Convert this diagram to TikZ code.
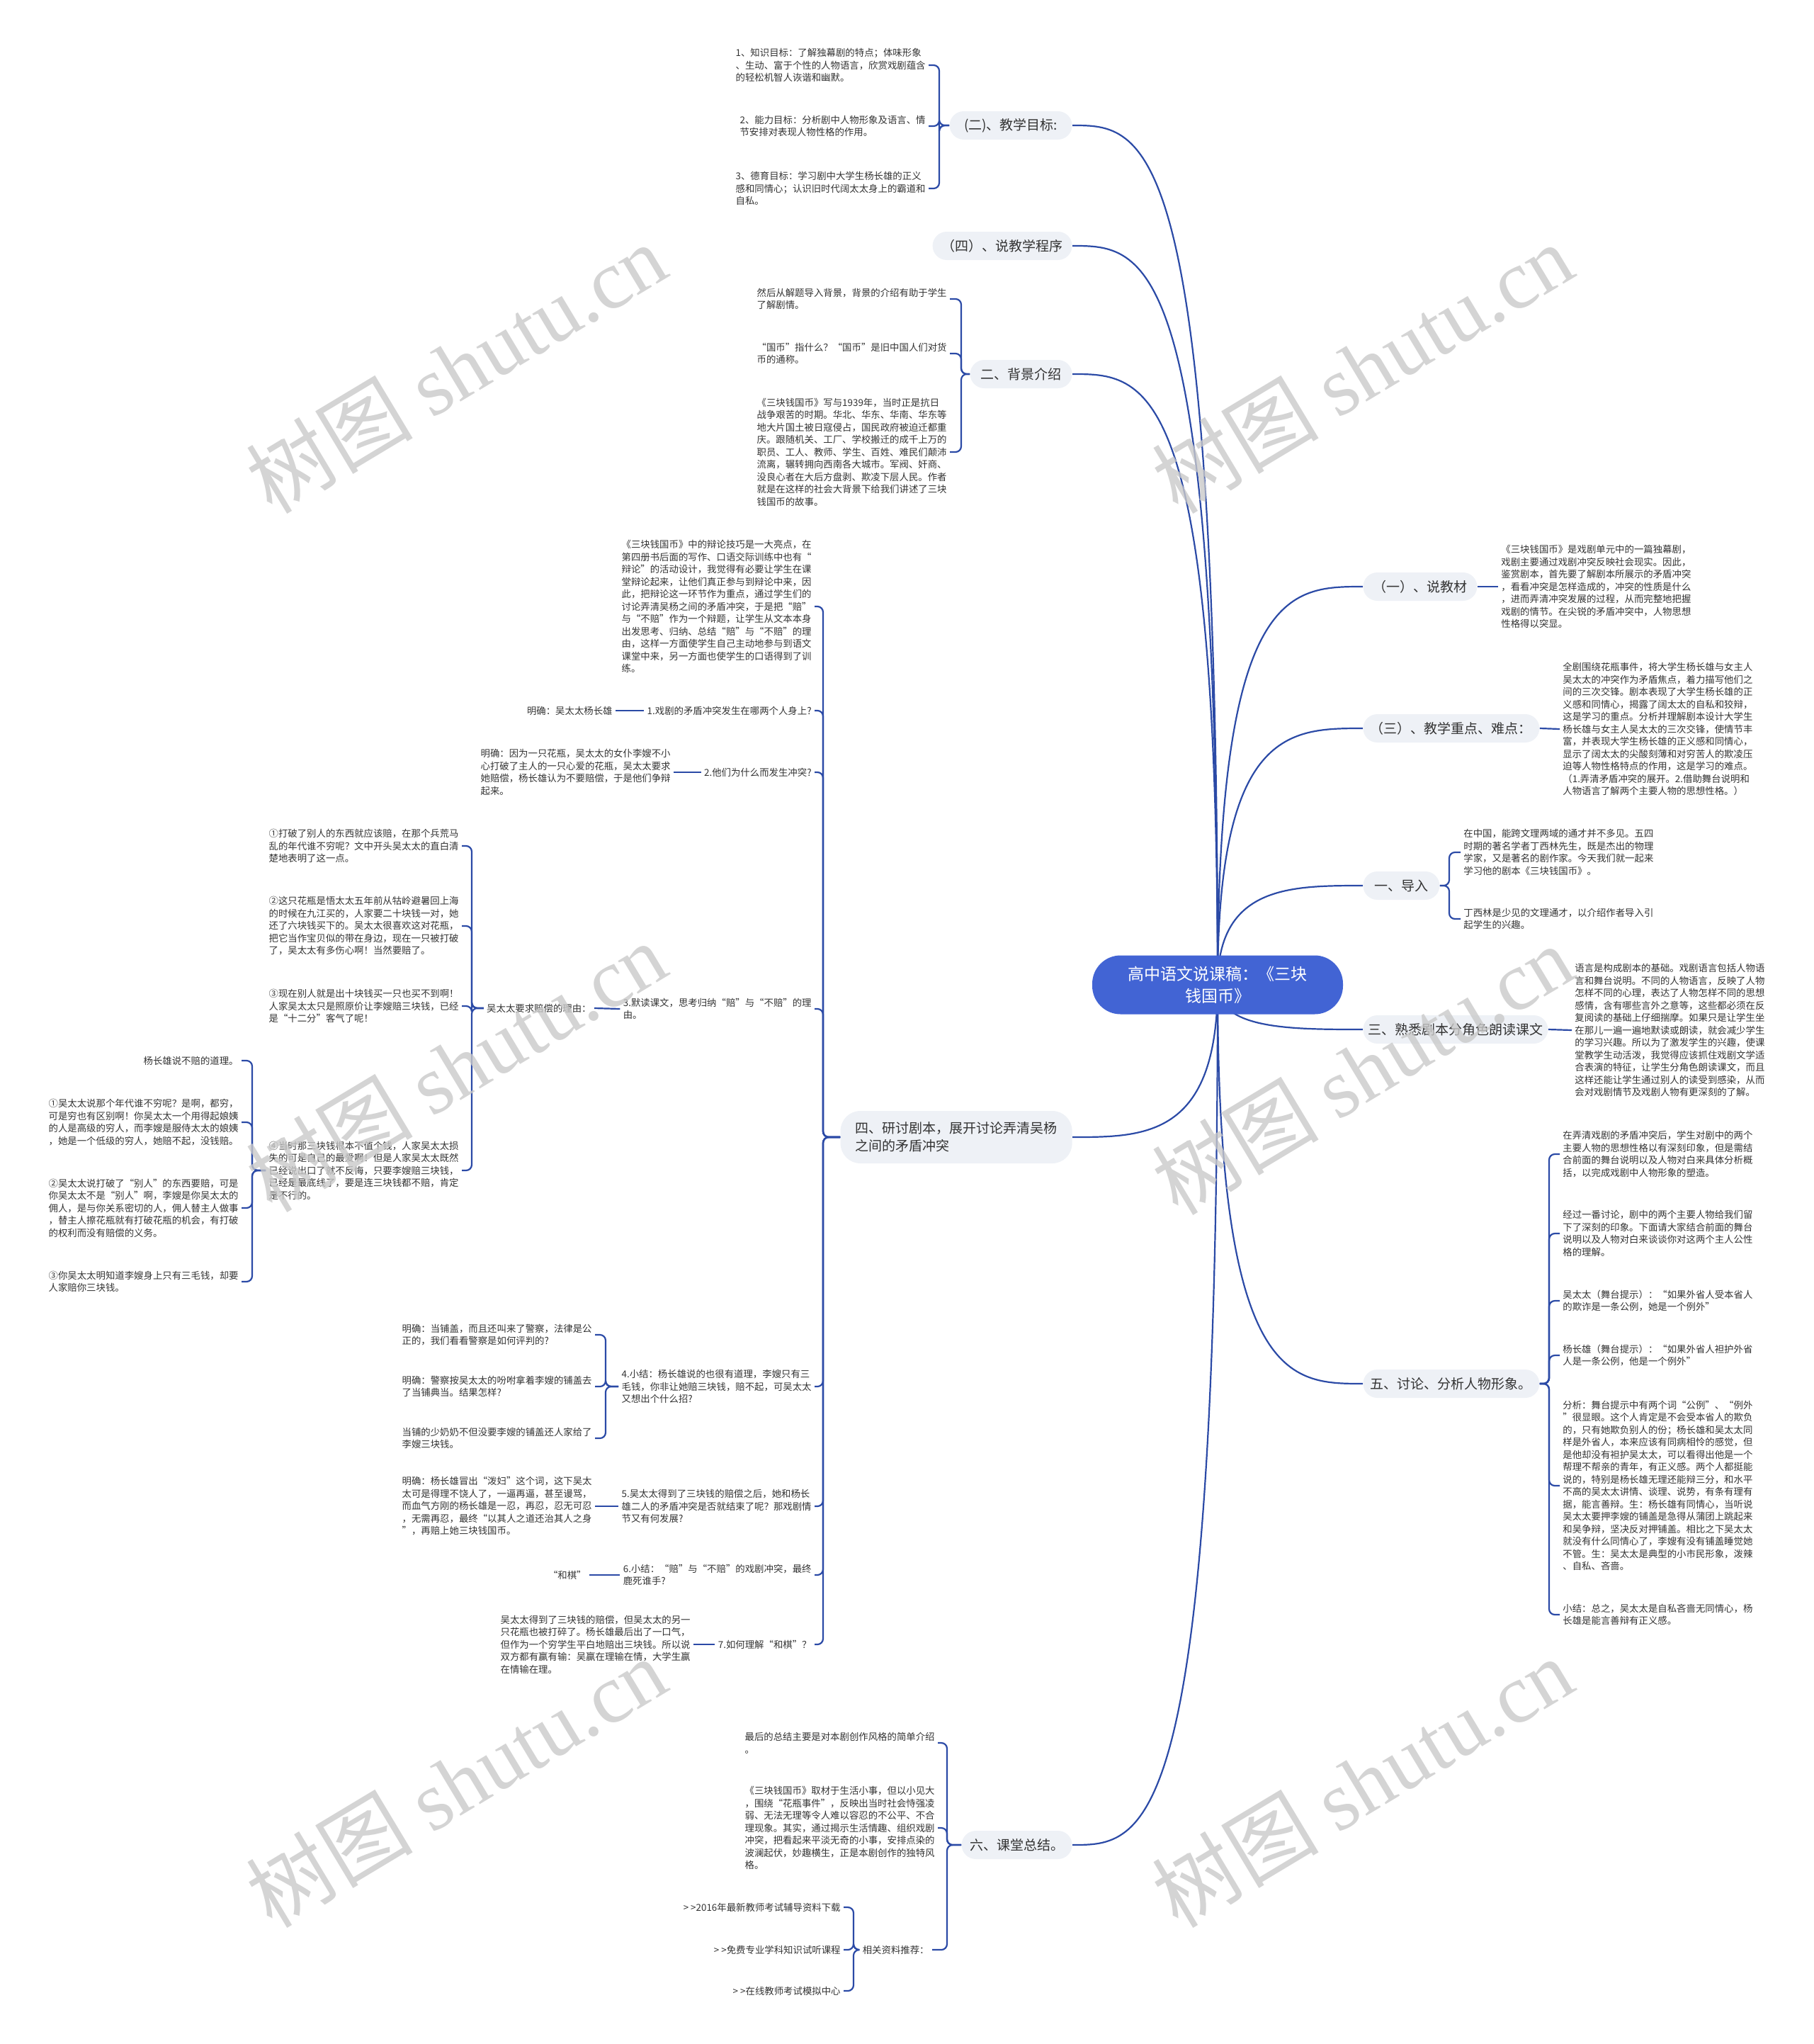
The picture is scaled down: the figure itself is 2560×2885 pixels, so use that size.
\documentclass[tikz,border=0pt]{standalone}
\usepackage{fontspec}
\setmainfont{Noto Sans CJK SC}
\newfontfamily\wmserif{Liberation Serif}
\usetikzlibrary{calc,backgrounds}

\definecolor{linkblue}{HTML}{2B4AA6}
\definecolor{rootblue}{HTML}{4264D4}
\definecolor{pillgray}{HTML}{EEF1F6}
\definecolor{txtgray}{HTML}{333333}
\newcommand{\leaffont}{\fontsize{6.7}{8.75}\selectfont}
\newcommand{\pillfont}{\fontsize{9.5}{12.5}\selectfont}

\begin{document}
\begin{tikzpicture}[x=0.5pt, y=-0.5pt,
  link/.style={draw=linkblue, line width=1.1pt, rounded corners=4pt},
  rootbox/.style={fill=rootblue, text=white, rounded corners=20pt, minimum width=177pt,
    minimum height=41.5pt, align=center, font=\fontsize{11.5}{15.5}\selectfont},
  pill/.style={fill=pillgray, text=txtgray, rounded corners=10pt, minimum height=20pt,
    inner xsep=0pt, font=\pillfont},
  leafR/.style={anchor=west, align=left, font=\leaffont, text=txtgray, inner xsep=2pt, inner ysep=1pt},
  leafL/.style={leafR, anchor=east},
  wm/.style={text=black!21, opacity=0.8, font=\fontsize{59}{66}\selectfont, rotate=31}]
  \useasboundingbox (0,0) rectangle (2560,2885);

  % Root
  \node[rootbox] (root) at (1719,1390) {高中语文说课稿：《三块\\钱国币》};

  % Right branches
  \node[pill, anchor=west, minimum width=80.5pt] (r1) at (1924,828) {（一）、说教材};
  \node[pill, anchor=west, minimum width=124.5pt] (r3) at (1924,1028) {（三）、教学重点、难点：};
  \node[pill, anchor=west, minimum width=54pt] (dr) at (1924,1250) {一、导入};
  \node[pill, anchor=west, minimum width=130.5pt] (sx) at (1924,1453) {三、熟悉剧本分角色朗读课文};
  \node[pill, anchor=west, minimum width=124.5pt] (tl) at (1924,1953) {五、讨论、分析人物形象。};

  % Left branches
  \node[pill, anchor=east, minimum width=86.5pt] (t2) at (1514,177) {(二)、教学目标:};
  \node[pill, anchor=east, minimum width=98.5pt] (t4) at (1514,347) {（四）、说教学程序};
  \node[pill, anchor=east, minimum width=72pt] (bg) at (1514,528) {二、背景介绍};
  \node[pill, anchor=east, minimum width=163.5pt, minimum height=37pt, rounded corners=14pt,
    align=left] (yt) at (1514,1605) {四、研讨剧本，展开讨论弄清吴杨\\之间的矛盾冲突};
  \node[pill, anchor=east, minimum width=78pt] (zj) at (1514,2604) {六、课堂总结。};

  % Root links
  \begin{scope}[on background layer]
    \foreach \c in {r1,r3,dr,sx,tl}
      \draw[link] (root.center) .. controls (root.center |- \c.west)
        and ($(root.center |- \c.west)!0.5!(\c.west)$) .. (\c.west);
    \foreach \c in {t2,t4,bg,yt,zj}
      \draw[link] (root.center) .. controls (root.center |- \c.east)
        and ($(root.center |- \c.east)!0.5!(\c.east)$) .. (\c.east);
  \end{scope}

  % (二) teaching goals
  \node[leafL] (g1) at (1311,92) {1、知识目标：了解独幕剧的特点；体味形象\\、生动、富于个性的人物语言，欣赏戏剧蕴含\\的轻松机智人诙谐和幽默。};
  \node[leafL] (g2) at (1311,178) {2、能力目标：分析剧中人物形象及语言、情\\节安排对表现人物性格的作用。};
  \node[leafL] (g3) at (1311,266) {3、德育目标：学习剧中大学生杨长雄的正义\\感和同情心；认识旧时代阔太太身上的霸道和\\自私。};
  \foreach \c in {g1,g2,g3}
    \draw[link] (t2.west) -- (1326,177) |- (\c.east);

  % 二 background
  \node[leafL] (bg1) at (1341,422) {然后从解题导入背景，背景的介绍有助于学生\\了解剧情。};
  \node[leafL] (bg2) at (1341,499) {“国币”指什么？“国币”是旧中国人们对货\\币的通称。};
  \node[leafL] (bg3) at (1341,638) {《三块钱国币》写与1939年，当时正是抗日\\战争艰苦的时期。华北、华东、华南、华东等\\地大片国土被日寇侵占，国民政府被迫迁都重\\庆。跟随机关、工厂、学校搬迁的成千上万的\\职员、工人、教师、学生、百姓、难民们颠沛\\流离，辗转拥向西南各大城市。军阀、奸商、\\没良心者在大后方盘剥、欺凌下层人民。作者\\就是在这样的社会大背景下给我们讲述了三块\\钱国币的故事。};
  \foreach \c in {bg1,bg2,bg3}
    \draw[link] (bg.west) -- (1357,528) |- (\c.east);

  % (一) textbook
  \node[leafR] (r1a) at (2115,828) {《三块钱国币》是戏剧单元中的一篇独幕剧，\\戏剧主要通过戏剧冲突反映社会现实。因此，\\鉴赏剧本，首先要了解剧本所展示的矛盾冲突\\，看看冲突是怎样造成的，冲突的性质是什么\\，进而弄清冲突发展的过程，从而完整地把握\\戏剧的情节。在尖锐的矛盾冲突中，人物思想\\性格得以突显。};
  \draw[link] (r1.east) -- (r1a.west);

  % (三) key points
  \node[leafR] (r3a) at (2202,1029) {全剧围绕花瓶事件，将大学生杨长雄与女主人\\吴太太的冲突作为矛盾焦点，着力描写他们之\\间的三次交锋。剧本表现了大学生杨长雄的正\\义感和同情心，揭露了阔太太的自私和狡辩，\\这是学习的重点。分析并理解剧本设计大学生\\杨长雄与女主人吴太太的三次交锋，使情节丰\\富，并表现大学生杨长雄的正义感和同情心，\\显示了阔太太的尖酸刻薄和对穷苦人的欺凌压\\迫等人物性格特点的作用，这是学习的难点。\\（1.弄清矛盾冲突的展开。2.借助舞台说明和\\人物语言了解两个主要人物的思想性格。）};
  \draw[link] (r3.east) -- (r3a.west);

  % 一 introduction
  \node[leafR] (dr1) at (2062,1203) {在中国，能跨文理两域的通才并不多见。五四\\时期的著名学者丁西林先生，既是杰出的物理\\学家，又是著名的剧作家。今天我们就一起来\\学习他的剧本《三块钱国币》。};
  \node[leafR] (dr2) at (2062,1297) {丁西林是少见的文理通才，以介绍作者导入引\\起学生的兴趣。};
  \foreach \c in {dr1,dr2}
    \draw[link] (dr.east) -- (2046,1250) |- (\c.west);

  % 三 reading
  \node[leafR] (sxa) at (2219,1454) {语言是构成剧本的基础。戏剧语言包括人物语\\言和舞台说明。不同的人物语言，反映了人物\\怎样不同的心理，表达了人物怎样不同的思想\\感情，含有哪些言外之意等，这些都必须在反\\复阅读的基础上仔细揣摩。如果只是让学生坐\\在那儿一遍一遍地默读或朗读，就会减少学生\\的学习兴趣。所以为了激发学生的兴趣，使课\\堂教学生动活泼，我觉得应该抓住戏剧文学适\\合表演的特征，让学生分角色朗读课文，而且\\这样还能让学生通过别人的读受到感染，从而\\会对戏剧情节及戏剧人物有更深刻的了解。};
  \draw[link] (sx.east) -- (sxa.west);

  % 五 characters
  \node[leafR] (tl1) at (2202,1629) {在弄清戏剧的矛盾冲突后，学生对剧中的两个\\主要人物的思想性格以有深刻印象，但是需结\\合前面的舞台说明以及人物对白来具体分析概\\括，以完成戏剧中人物形象的塑造。};
  \node[leafR] (tl2) at (2202,1741) {经过一番讨论，剧中的两个主要人物给我们留\\下了深刻的印象。下面请大家结合前面的舞台\\说明以及人物对白来谈谈你对这两个主人公性\\格的理解。};
  \node[leafR] (tl3) at (2202,1836) {吴太太（舞台提示）：“如果外省人受本省人\\的欺诈是一条公例，她是一个例外”};
  \node[leafR] (tl4) at (2202,1913) {杨长雄（舞台提示）：“如果外省人袒护外省\\人是一条公例，他是一个例外”};
  \node[leafR] (tl5) at (2202,2097) {分析：舞台提示中有两个词“公例”、“例外\\”很显眼。这个人肯定是不会受本省人的欺负\\的，只有她欺负别人的份；杨长雄和吴太太同\\样是外省人，本来应该有同病相怜的感觉，但\\是他却没有袒护吴太太，可以看得出他是一个\\帮理不帮亲的青年，有正义感。两个人都挺能\\说的，特别是杨长雄无理还能辩三分，和水平\\不高的吴太太讲情、谈理、说势，有条有理有\\据，能言善辩。生：杨长雄有同情心，当听说\\吴太太要押李嫂的铺盖是急得从蒲团上跳起来\\和吴争辩，坚决反对押铺盖。相比之下吴太太\\就没有什么同情心了，李嫂有没有铺盖睡觉她\\不管。生：吴太太是典型的小市民形象，泼辣\\、自私、吝啬。};
  \node[leafR] (tl6) at (2202,2279) {小结：总之，吴太太是自私吝啬无同情心，杨\\长雄是能言善辩有正义感。};
  \foreach \c in {tl1,tl2,tl3,tl4,tl5,tl6}
    \draw[link] (tl.east) -- (2187,1953) |- (\c.west);

  % 四 discussion
  \node[leafL] (y0) at (1150,856) {《三块钱国币》中的辩论技巧是一大亮点，在\\第四册书后面的写作、口语交际训练中也有“\\辩论”的活动设计，我觉得有必要让学生在课\\堂辩论起来，让他们真正参与到辩论中来，因\\此，把辩论这一环节作为重点，通过学生们的\\讨论弄清吴杨之间的矛盾冲突，于是把“赔”\\与“不赔”作为一个辩题，让学生从文本本身\\出发思考、归纳、总结“赔”与“不赔”的理\\由，这样一方面使学生自己主动地参与到语文\\课堂中来，另一方面也使学生的口语得到了训\\练。};
  \node[leafL] (y1) at (1150,1003) {1.戏剧的矛盾冲突发生在哪两个人身上?};
  \node[leafL] (y2) at (1150,1090) {2.他们为什么而发生冲突?};
  \node[leafL] (y3) at (1150,1424) {3.默读课文，思考归纳“赔”与“不赔”的理\\由。};
  \node[leafL] (y4) at (1150,1957) {4.小结：杨长雄说的也很有道理，李嫂只有三\\毛钱，你非让她赔三块钱，赔不起，可吴太太\\又想出个什么招?};
  \node[leafL] (y5) at (1150,2126) {5.吴太太得到了三块钱的赔偿之后，她和杨长\\雄二人的矛盾冲突是否就结束了呢？那戏剧情\\节又有何发展?};
  \node[leafL] (y6) at (1150,2223) {6.小结：“赔”与“不赔”的戏剧冲突，最终\\鹿死谁手?};
  \node[leafL] (y7) at (1150,2321) {7.如何理解“和棋”？};
  \foreach \c in {y0,y1,y2,y3,y4,y5,y6,y7}
    \draw[link] (yt.west) -- (1162,1605) |- (\c.east);

  \node[leafL] (y1a) at (869,1003) {明确：吴太太杨长雄};
  \draw[link] (y1.west) -- (y1a.east);
  \node[leafL] (y2a) at (951,1090) {明确：因为一只花瓶，吴太太的女仆李嫂不小\\心打破了主人的一只心爱的花瓶，吴太太要求\\她赔偿，杨长雄认为不要赔偿，于是他们争辩\\起来。};
  \draw[link] (y2.west) -- (y2a.east);

  % reasons for paying
  \node[leafL] (y3a) at (839,1423) {吴太太要求赔偿的理由：};
  \draw[link] (y3.west) -- (y3a.east);
  \node[leafL] (w1) at (652,1194) {①打破了别人的东西就应该赔，在那个兵荒马\\乱的年代谁不穷呢？文中开头吴太太的直白清\\楚地表明了这一点。};
  \node[leafL] (w2) at (652,1307) {②这只花瓶是悟太太五年前从牯岭避暑回上海\\的时候在九江买的，人家要二十块钱一对，她\\还了六块钱买下的。吴太太很喜欢这对花瓶，\\把它当作宝贝似的带在身边，现在一只被打破\\了，吴太太有多伤心啊！当然要赔了。};
  \node[leafL] (w3) at (652,1420) {③现在别人就是出十块钱买一只也买不到啊！\\人家吴太太只是照原价让李嫂赔三块钱，已经\\是“十二分”客气了呢！};
  \node[leafL] (w4) at (652,1652) {④当时那三块钱根本不值个钱，人家吴太太损\\失的可是自己的最爱啊！但是人家吴太太既然\\已经说出口了就不反悔，只要李嫂赔三块钱，\\已经是最底线了，要是连三块钱都不赔，肯定\\是不行的。};
  \foreach \c in {w1,w2,w3,w4}
    \draw[link] (y3a.west) -- (666,1423) |- (\c.east);

  % reasons for not paying
  \node[leafL] (v0) at (341,1497) {杨长雄说不赔的道理。};
  \node[leafL] (v1) at (341,1584) {①吴太太说那个年代谁不穷呢？是啊，都穷，\\可是穷也有区别啊！你吴太太一个用得起娘姨\\的人是高级的穷人，而李嫂是服侍太太的娘姨\\，她是一个低级的穷人，她赔不起，没钱赔。};
  \node[leafL] (v2) at (341,1705) {②吴太太说打破了“别人”的东西要赔，可是\\你吴太太不是“别人”啊，李嫂是你吴太太的\\佣人，是与你关系密切的人，佣人替主人做事\\，替主人擦花瓶就有打破花瓶的机会，有打破\\的权利而没有赔偿的义务。};
  \node[leafL] (v3) at (341,1809) {③你吴太太明知道李嫂身上只有三毛钱，却要\\人家赔你三块钱。};
  \foreach \c in {v0,v1,v2,v3}
    \draw[link] (w4.west) -- (356,1652) |- (\c.east);

  % summaries 4 - 7
  \node[leafL] (y4a) at (840,1884) {明确：当铺盖，而且还叫来了警察，法律是公\\正的，我们看看警察是如何评判的?};
  \node[leafL] (y4b) at (840,1957) {明确：警察按吴太太的吩咐拿着李嫂的铺盖去\\了当铺典当。结果怎样?};
  \node[leafL] (y4c) at (840,2030) {当铺的少奶奶不但没要李嫂的铺盖还人家给了\\李嫂三块钱。};
  \foreach \c in {y4a,y4b,y4c}
    \draw[link] (y4.west) -- (855,1957) |- (\c.east);
  \node[leafL] (y5a) at (840,2126) {明确：杨长雄冒出“泼妇”这个词，这下吴太\\太可是得理不饶人了，一逼再逼，甚至谩骂，\\而血气方刚的杨长雄是一忍，再忍，忍无可忍\\，无需再忍，最终“以其人之道还治其人之身\\”，再赔上她三块钱国币。};
  \draw[link] (y5.west) -- (y5a.east);
  \node[leafL] (y6a) at (832,2223) {“和棋”};
  \draw[link] (y6.west) -- (y6a.east);
  \node[leafL] (y7a) at (979,2321) {吴太太得到了三块钱的赔偿，但吴太太的另一\\只花瓶也被打碎了。杨长雄最后出了一口气，\\但作为一个穷学生平白地赔出三块钱。所以说\\双方都有赢有输：吴赢在理输在情，大学生赢\\在情输在理。};
  \draw[link] (y7.west) -- (y7a.east);

  % 六 summary
  \node[leafL] (z1) at (1324,2460) {最后的总结主要是对本剧创作风格的简单介绍\\。};
  \node[leafL] (z2) at (1324,2580) {《三块钱国币》取材于生活小事，但以小见大\\，围绕“花瓶事件”，反映出当时社会恃强凌\\弱、无法无理等令人难以容忍的不公平、不合\\理现象。其实，通过揭示生活情趣、组织戏剧\\冲突，把看起来平淡无奇的小事，安排点染的\\波澜起伏，妙趣横生，正是本剧创作的独特风\\格。};
  \node[leafL] (z3) at (1316,2752) {相关资料推荐：};
  \foreach \c in {z1,z2,z3}
    \draw[link] (zj.west) -- (1337,2604) |- (\c.east);
  \node[leafL] (z3a) at (1191,2692) {> >2016年最新教师考试辅导资料下载};
  \node[leafL] (z3b) at (1191,2752) {> >免费专业学科知识试听课程};
  \node[leafL] (z3c) at (1191,2810) {> >在线教师考试模拟中心};
  \foreach \c in {z3a,z3b,z3c}
    \draw[link] (z3.west) -- (1205,2752) |- (\c.east);

  % Watermarks
  \node[wm] (wm1) at (644,519) {树图 {\wmserif shutu.cn}};
  \node[wm] (wm2) at (1923,519) {树图 {\wmserif shutu.cn}};
  \node[wm] (wm3) at (644,1505) {树图 {\wmserif shutu.cn}};
  \node[wm] (wm4) at (1923,1509) {树图 {\wmserif shutu.cn}};
  \node[wm] (wm5) at (644,2515) {树图 {\wmserif shutu.cn}};
  \node[wm] (wm6) at (1923,2515) {树图 {\wmserif shutu.cn}};
\end{tikzpicture}
\end{document}
